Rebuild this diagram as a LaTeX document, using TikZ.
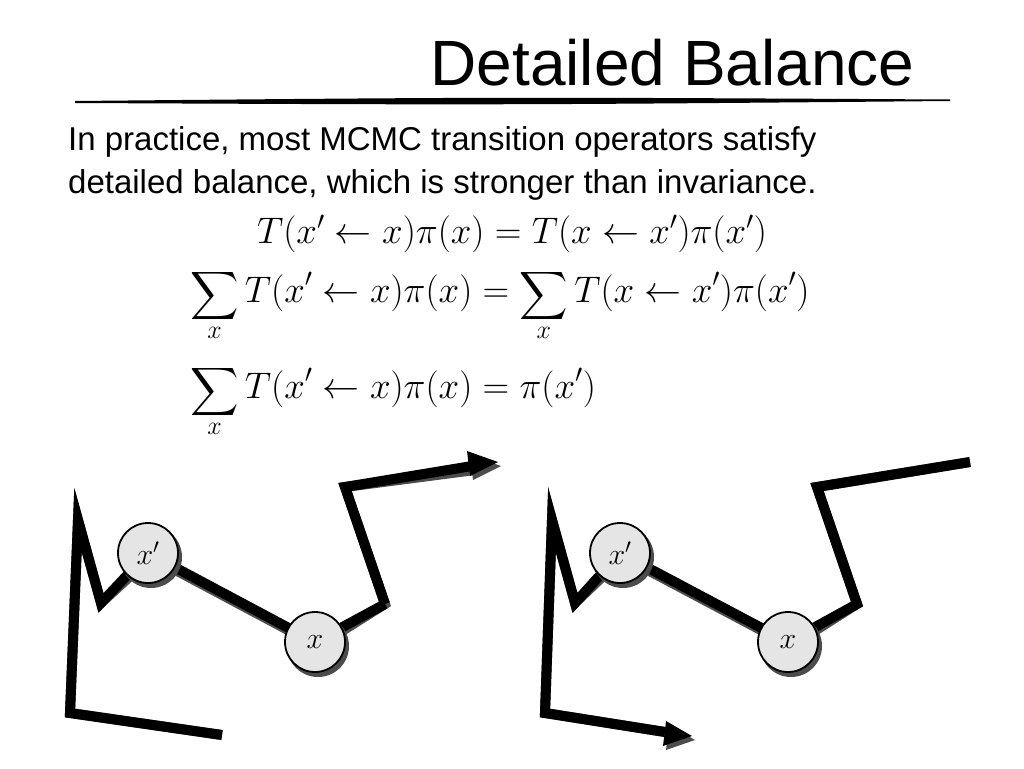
\documentclass[tikz,border=0pt]{standalone}
\usepackage{fix-cm}
\usepackage{fontspec}
\setmainfont{Liberation Sans}
\usepackage{amsmath}
\usepackage{graphicx}
\usetikzlibrary{arrows.meta}
\newcommand{\bigsum}{\mathop{\vphantom{\sum}\mathchoice{\raisebox{-0.18em}{\scalebox{1.35}{$\displaystyle\sum$}}}{\sum}{\sum}{\sum}}\limits}
\begin{document}
\begin{tikzpicture}[x=1pt,y=-1pt,
  walk/.style={line width=10pt,line join=miter},
  shad/.style={line width=10pt,draw=black!70,line join=miter},
  st/.style={circle,draw,line width=1.8pt,fill=black!10,minimum size=60pt,inner sep=0pt,font=\fontsize{30}{34}\selectfont},
  eq/.style={font=\fontsize{37}{44}\selectfont,inner sep=0}]
\useasboundingbox (0,0) rectangle (1024,768);
\node[anchor=base east,font=\fontsize{64}{70}\selectfont] (title) at (918,85) {Detailed Balance};
\fill (75,101) .. controls (500,97) .. (950,99.5) -- (950,101) .. controls (500,105) .. (75,103) -- cycle;
\node[anchor=base west,font=\fontsize{33}{40}\selectfont,inner sep=0] (t1) at (68,150) {In practice, most MCMC transition operators satisfy};
\node[anchor=base west,font=\fontsize{33}{40}\selectfont,inner sep=0] (t2) at (68,193) {detailed balance, which is stronger than invariance.};
\node[anchor=base,eq] (e1) at (512,243) {$T(x'\leftarrow x)\pi(x) = T(x\leftarrow x')\pi(x')$};
\node[anchor=base west,eq] (e2) at (190,302) {$\displaystyle\bigsum_x T(x'\leftarrow x)\pi(x) = \bigsum_x T(x\leftarrow x')\pi(x')$};
\node[anchor=base west,eq] (e3) at (190,398) {$\displaystyle\bigsum_x T(x'\leftarrow x)\pi(x) = \pi(x')$};
% left
\coordinate (a0) at (222,735); \coordinate (a1) at (70,713); \coordinate (a2) at (78,520); \coordinate (a3) at (101,603);
\coordinate (a4) at (385,604); \coordinate (a5) at (345,487); \coordinate (a6) at (498,462);
\begin{scope}[shift={(3,4)}]
\draw[shad] (a0)--(a1)--(a2)--(a3)--(148,553)--(315,642)--(a4)--(a5)--(472,466);
\fill[black!70] (498,462)--(470,476)--(467,451)--cycle;
\end{scope}
\draw[walk] (a0)--(a1)--(a2)--(a3)--(148,553);
\draw[walk] (a4)--(a5)--(472,466);
\fill (498,462)--(470,476)--(467,451)--cycle;
\draw[walk] (148,553)--(315,642)--(a4);
\fill[black!70] (151,557) circle (31); \fill[black!70] (318,646) circle (31);
\node[st] (xp1) at (148,553) {$x'$};
\node[st] (x1) at (315,642) {$x$};
% right
\coordinate (b0) at (665,732); \coordinate (b1) at (545,713); \coordinate (b2) at (552,520); \coordinate (b3) at (575,603);
\coordinate (b4) at (857,604); \coordinate (b5) at (817,487); \coordinate (b6) at (970,462);
\begin{scope}[shift={(3,4)}]
\draw[shad] (b0)--(b1)--(b2)--(b3)--(620,553)--(788,642)--(b4)--(b5)--(b6);
\fill[black!70] (692,736)--(663,746)--(666,721)--cycle;
\end{scope}
\draw[walk] (b0)--(b1)--(b2)--(b3)--(620,553)--(788,642)--(b4)--(b5)--(b6);
\fill (692,736)--(663,746)--(666,721)--cycle;
\fill[black!70] (623,557) circle (31); \fill[black!70] (791,646) circle (31);
\node[st] (xp2) at (620,553) {$x'$};
\node[st] (x2) at (788,642) {$x$};
\end{tikzpicture}
\end{document}
